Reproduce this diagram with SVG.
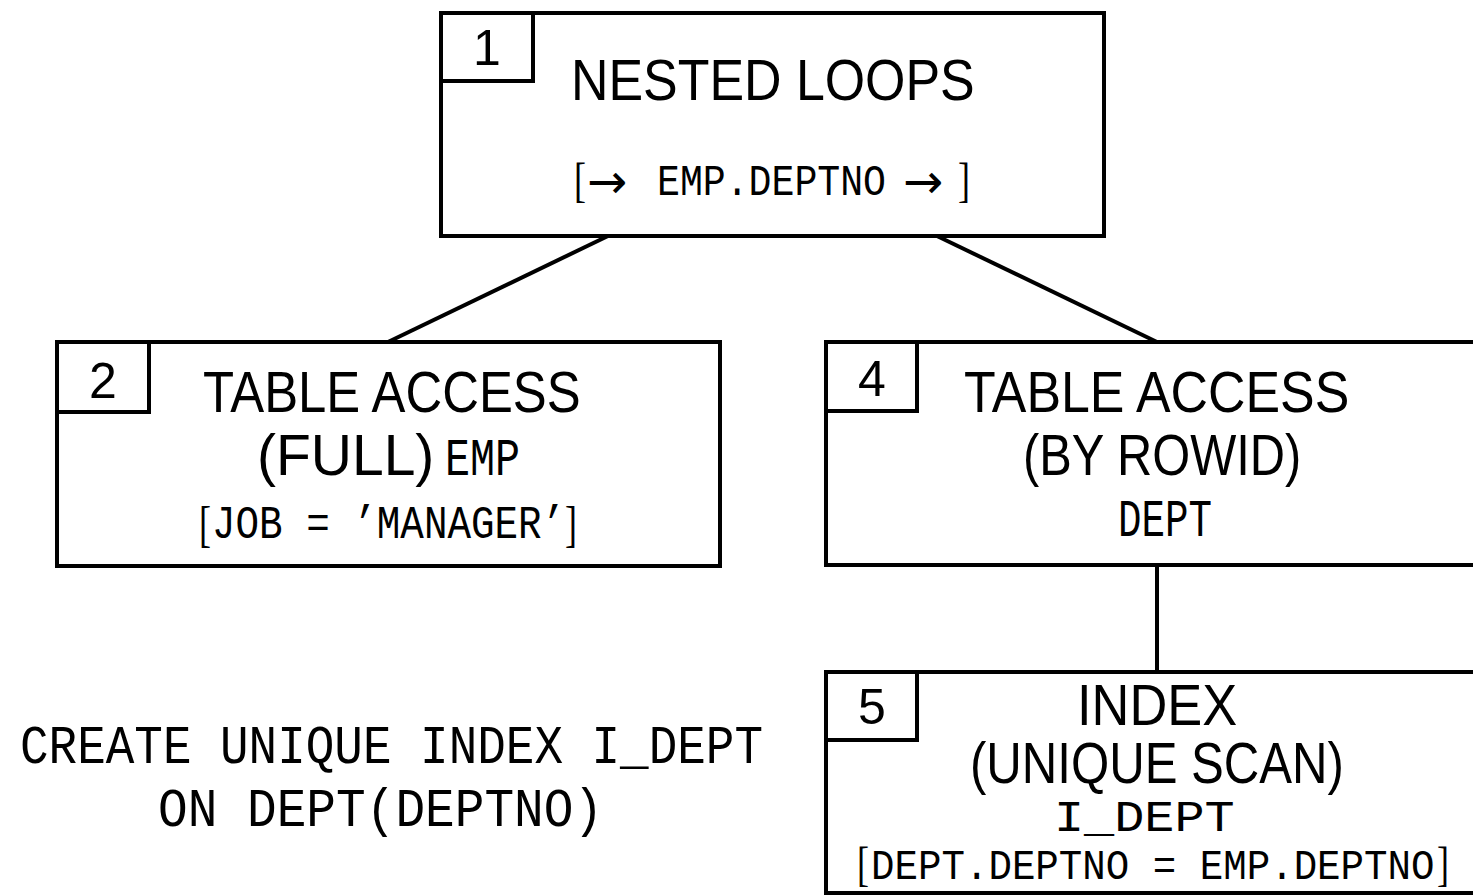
<svg xmlns="http://www.w3.org/2000/svg" width="1473" height="896" viewBox="0 0 1473 896">
<style>
.box{fill:#fff;stroke:#000;stroke-width:4}
.num{fill:none;stroke:#000;stroke-width:4}
.sans{font-family:"Liberation Sans","DejaVu Sans",sans-serif;fill:#000}
.mono{font-family:"Liberation Mono","DejaVu Sans Mono",monospace;fill:#000}
.serif{font-family:"Liberation Serif","DejaVu Serif",serif;fill:#000}
.arrow{font-family:"DejaVu Sans",sans-serif;fill:#000}
.conn{stroke:#000;stroke-width:4;fill:none}
</style>
<rect width="1473" height="896" fill="#fff"/>
<g id="connectors">
<line class="conn" x1="608" y1="236" x2="388" y2="342"/>
<line class="conn" x1="937" y1="236" x2="1157" y2="342"/>
<line class="conn" x1="1157" y1="565" x2="1157" y2="672"/>
</g>
<g id="node1">
<rect class="box" x="441" y="13" width="663" height="223"/>
<rect class="num" x="441" y="13" width="92" height="68"/>
<text class="sans" x="487" y="65" font-size="50" text-anchor="middle">1</text>
<text class="sans" font-size="58" transform="translate(571 100) scale(0.895 1)">NESTED LOOPS</text>
<text class="serif" font-size="48" transform="translate(574 196) scale(0.75 1)">[</text>
<text class="arrow" x="587" y="198" font-size="48">→</text>
<text class="mono" font-size="45" transform="translate(657 195) scale(0.848 1)">EMP.DEPTNO</text>
<text class="arrow" x="903" y="198" font-size="48">→</text>
<text class="serif" font-size="48" transform="translate(958 196) scale(0.75 1)">]</text>
</g>
<g id="node2">
<rect class="box" x="57" y="342" width="663" height="224"/>
<rect class="num" x="57" y="342" width="92" height="70"/>
<text class="sans" x="103" y="398" font-size="50" text-anchor="middle">2</text>
<text class="sans" font-size="57" transform="translate(203 412) scale(0.892 1)">TABLE ACCESS</text>
<text class="sans" x="257" y="475" font-size="57">(FULL)</text>
<text class="mono" font-size="54" transform="translate(445 475) scale(0.772 1)">EMP</text>
<text class="serif" font-size="50" transform="translate(199 541) scale(0.72 1)">[</text>
<text class="mono" font-size="46" transform="translate(212 538) scale(0.853 1)">JOB = ’MANAGER’</text>
<text class="serif" font-size="50" transform="translate(565 541) scale(0.72 1)">]</text>
</g>
<g id="node4">
<rect class="box" x="826" y="342" width="663" height="223"/>
<rect class="num" x="826" y="342" width="91" height="69"/>
<text class="sans" x="872" y="396" font-size="50" text-anchor="middle">4</text>
<text class="sans" font-size="57" transform="translate(964 412) scale(0.91 1)">TABLE ACCESS</text>
<text class="sans" font-size="57" transform="translate(1023 475) scale(0.856 1)">(BY ROWID)</text>
<text class="mono" font-size="54" transform="translate(1118 536) scale(0.725 1)">DEPT</text>
</g>
<g id="node5">
<rect class="box" x="826" y="672" width="663" height="221"/>
<rect class="num" x="826" y="672" width="91" height="68"/>
<text class="sans" x="872" y="724" font-size="50" text-anchor="middle">5</text>
<text class="sans" font-size="57" transform="translate(1077 725) scale(0.919 1)">INDEX</text>
<text class="sans" font-size="57" transform="translate(970 783) scale(0.862 1)">(UNIQUE SCAN)</text>
<text class="mono" font-size="44" transform="translate(1054 831) scale(1.14 1)">I_DEPT</text>
<text class="serif" font-size="48" transform="translate(857 880) scale(0.75 1)">[</text>
<text class="mono" font-size="42" transform="translate(871 879) scale(0.932 1)">DEPT.DEPTNO = EMP.DEPTNO</text>
<text class="serif" font-size="48" transform="translate(1437 880) scale(0.75 1)">]</text>
</g>
<g id="note">
<text class="mono" font-size="54" transform="translate(20 763) scale(0.882 1)">CREATE UNIQUE INDEX I_DEPT</text>
<text class="mono" font-size="54" transform="translate(158 826) scale(0.916 1)">ON DEPT(DEPTNO)</text>
</g>
</svg>
